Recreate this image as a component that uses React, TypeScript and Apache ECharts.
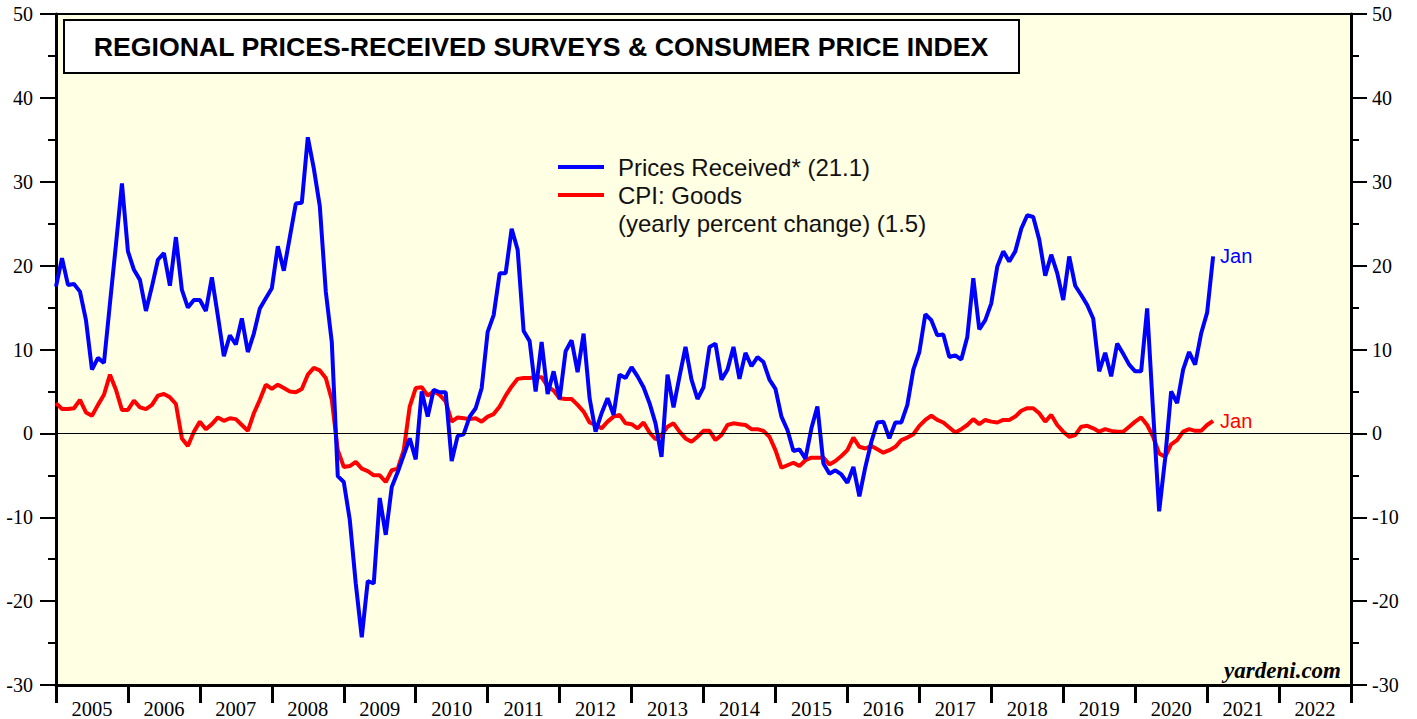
import React, { useEffect, useRef } from "react";
import * as echarts from "echarts";

// Month-end observations, Dec 2004 .. Jan 2021 (x = decimal year of month end)
const FIRST_MONTH_END = 2005.0;
const YEARS = ["2005","2006","2007","2008","2009","2010","2011","2012","2013","2014","2015","2016","2017","2018","2019","2020","2021","2022"];
const Y_TICKS = { min: -30, max: 50, interval: 10 };

const PRICES_RECEIVED = [
  17.5, 20.9, 17.7, 17.8, 16.9, 13.5, 7.6, 9.0, 8.4, 15.5, 22.5, 29.8,
  21.7, 19.5, 18.3, 14.6, 17.5, 20.7, 21.5, 17.6, 23.4, 17.1, 15.0, 15.9,
  15.9, 14.6, 18.6, 14.0, 9.2, 11.7, 10.6, 13.7, 9.7, 11.9, 14.9, 16.1,
  17.3, 22.3, 19.4, 23.4, 27.4, 27.5, 35.3, 31.6, 27.1, 16.9, 10.9, -5.1,
  -5.8, -10.3, -17.9, -24.3, -17.6, -17.9, -7.7, -12.1, -6.4, -4.6, -2.6, -0.6,
  -3.1, 5.0, 2.0, 5.2, 4.9, 4.9, -3.3, -0.3, -0.1, 2.0, 3.0, 5.4,
  12.1, 14.1, 19.1, 19.1, 24.4, 21.9, 12.2, 11.0, 5.0, 10.9, 4.7, 7.4,
  4.1, 9.8, 11.1, 7.3, 11.9, 4.2, 0.2, 2.4, 4.2, 2.2, 7.0, 6.6,
  7.9, 6.8, 5.5, 3.6, 1.2, -2.8, 7.0, 3.1, 6.8, 10.3, 6.4, 4.1,
  5.5, 10.3, 10.7, 6.4, 7.6, 10.3, 6.5, 9.6, 8.0, 9.1, 8.5, 6.4,
  5.3, 2.0, 0.4, -2.1, -1.9, -3.0, 0.6, 3.2, -3.6, -4.8, -4.4, -4.9,
  -5.9, -4.0, -7.5, -4.0, -1.0, 1.3, 1.4, -0.6, 1.3, 1.3, 3.4, 7.6,
  9.7, 14.2, 13.5, 11.7, 11.8, 9.1, 9.3, 8.8, 11.5, 18.5, 12.4, 13.5,
  15.5, 19.9, 21.7, 20.5, 21.7, 24.4, 26.0, 25.8, 23.1, 18.8, 21.3, 19.1,
  15.9, 21.1, 17.6, 16.5, 15.3, 13.7, 7.4, 9.6, 6.8, 10.7, 9.5, 8.2,
  7.4, 7.4, 14.9, 2.5, -9.3, -3.0, 5.0, 3.6, 7.6, 9.7, 8.2, 11.9,
  14.4, 21.1,
];

const CPI_GOODS = [
  3.6, 2.9, 2.9, 3.0, 4.0, 2.5, 2.1, 3.4, 4.6, 7.0, 5.2, 2.8,
  2.8, 3.9, 3.1, 2.9, 3.4, 4.5, 4.7, 4.3, 3.5, -0.6, -1.5, 0.2,
  1.4, 0.5, 1.1, 1.9, 1.5, 1.8, 1.7, 1.0, 0.3, 2.4, 4.0, 5.8,
  5.3, 5.8, 5.4, 5.0, 4.9, 5.3, 7.0, 7.8, 7.5, 6.6, 4.0, -2.0,
  -4.0, -3.9, -3.4, -4.2, -4.5, -5.0, -5.0, -5.8, -4.4, -4.2, -2.0, 3.2,
  5.4, 5.5, 4.5, 5.0, 4.6, 3.8, 1.4, 1.9, 1.8, 1.7, 1.8, 1.4,
  2.0, 2.3, 3.2, 4.5, 5.6, 6.5, 6.6, 6.6, 6.7, 6.7, 5.6, 5.1,
  4.2, 4.1, 4.1, 3.4, 2.6, 1.3, 1.0, 0.6, 1.4, 2.0, 2.2, 1.2,
  1.1, 0.6, 1.3, 0.1, -0.7, -0.2, 0.8, 1.2, 0.2, -0.6, -1.0, -0.4,
  0.3, 0.3, -0.8, -0.2, 1.0, 1.2, 1.1, 1.0, 0.5, 0.5, 0.3, -0.4,
  -2.0, -4.1, -3.8, -3.5, -3.9, -3.2, -2.9, -2.9, -2.9, -3.7, -3.3, -2.7,
  -2.0, -0.5, -1.6, -1.8, -1.5, -1.9, -2.3, -2.0, -1.6, -0.8, -0.5, -0.1,
  0.9, 1.6, 2.1, 1.6, 1.3, 0.7, 0.1, 0.5, 1.0, 1.7, 1.1, 1.6,
  1.4, 1.3, 1.6, 1.6, 2.0, 2.7, 3.0, 3.0, 2.4, 1.4, 2.2, 1.0,
  0.2, -0.4, -0.2, 0.8, 0.9, 0.6, 0.2, 0.5, 0.3, 0.2, 0.2, 0.8,
  1.4, 1.9, 1.0, -0.4, -2.4, -2.8, -1.3, -0.8, 0.2, 0.5, 0.3, 0.3,
  1.0, 1.5,
];

const TITLE = "REGIONAL PRICES-RECEIVED SURVEYS & CONSUMER PRICE INDEX";
const LEGEND_LINES = ["Prices Received* (21.1)", "CPI: Goods", "(yearly percent change) (1.5)"];

const toPairs = (arr: number[]) => arr.map((v, i) => [FIRST_MONTH_END + i / 12, v]);

const SERIF = "'Liberation Serif', 'Times New Roman', serif";
const SANS = "'Liberation Sans', Arial, sans-serif";

export default function App() {
  const ref = useRef<HTMLDivElement>(null);
  useEffect(() => {
    if (!ref.current) return;
    const chart = echarts.init(ref.current, null, { renderer: "svg" });
    const yAxisBase = (position: "left" | "right", margin: number) => ({
      type: "value",
      position,
      min: Y_TICKS.min,
      max: Y_TICKS.max,
      interval: Y_TICKS.interval,
      axisLine: { show: true, onZero: false, lineStyle: { color: "#000", width: 3 } },
      axisTick: { show: true, length: 16, lineStyle: { color: "#000", width: 2 } },
      minorTick: { show: true, splitNumber: 2, length: 8, lineStyle: { color: "#000", width: 2 } },
      splitLine: { show: false },
      axisLabel: { margin, color: "#000", fontFamily: SERIF, fontSize: 20 },
    });
    chart.setOption({
      animation: false,
      backgroundColor: "#fff",
      grid: {
        left: 56, right: 66, top: 14, bottom: 34,
        show: true, backgroundColor: "#FFFFE3", borderColor: "#000", borderWidth: 2,
      },
      xAxis: [
        { type: "value", min: 2005, max: 2023, show: false },
        {
          type: "category", position: "bottom", data: YEARS, boundaryGap: true,
          axisLine: { show: true, onZero: false, lineStyle: { color: "#000", width: 3 } },
          axisTick: { show: true, interval: 0, length: 18, lineStyle: { color: "#000", width: 3 } },
          axisLabel: { interval: 0, margin: 13, color: "#000", fontFamily: SERIF, fontSize: 20.5 },
          splitLine: { show: false },
        },
      ],
      yAxis: [yAxisBase("left", 23), yAxisBase("right", 21)],
      series: [
        {
          type: "line", xAxisIndex: 0, yAxisIndex: 0, data: [], z: 1, silent: true,
          markLine: {
            silent: true, symbol: "none", label: { show: false },
            lineStyle: { color: "#000", width: 1, type: "solid" },
            data: [{ yAxis: 0 }],
          },
        },
        {
          name: "CPI: Goods", type: "line", xAxisIndex: 0, yAxisIndex: 0, z: 3,
          data: toPairs(CPI_GOODS), showSymbol: false, symbol: "none",
          lineStyle: { color: "#ff0000", width: 4 }, itemStyle: { color: "#ff0000" },
          endLabel: { show: true, formatter: "Jan", color: "#ff0000", fontFamily: SANS, fontSize: 20, distance: 7 },
        },
        {
          name: "Prices Received", type: "line", xAxisIndex: 0, yAxisIndex: 0, z: 4,
          data: toPairs(PRICES_RECEIVED), showSymbol: false, symbol: "none",
          lineStyle: { color: "#0000ff", width: 4 }, itemStyle: { color: "#0000ff" },
          endLabel: { show: true, formatter: "Jan", color: "#0000ff", fontFamily: SANS, fontSize: 20, distance: 7 },
        },
      ],
      graphic: [
        {
          type: "rect", shape: { x: 64, y: 20, width: 955, height: 53 },
          style: { fill: "#fff", stroke: "#000", lineWidth: 2 }, z: 10,
        },
        {
          type: "text", x: 541, y: 47, z: 11,
          style: { text: TITLE, fill: "#000", font: `bold 26.7px ${SANS}`, align: "center", verticalAlign: "middle" },
        },
        { type: "line", shape: { x1: 558, y1: 167, x2: 604, y2: 167 }, style: { stroke: "#0000ff", lineWidth: 4 }, z: 10 },
        { type: "line", shape: { x1: 558, y1: 195, x2: 604, y2: 195 }, style: { stroke: "#ff0000", lineWidth: 4 }, z: 10 },
        ...LEGEND_LINES.map((t, k) => ({
          type: "text", x: 618, y: 167 + 28 * k, z: 10,
          style: { text: t, fill: "#111", font: `24px ${SANS}`, align: "left", verticalAlign: "middle" },
        })),
        {
          type: "text", x: 1341, y: 670, z: 10,
          style: { text: "yardeni.com", fill: "#000", font: `italic bold 23px ${SERIF}`, align: "right", verticalAlign: "middle" },
        },
      ],
    });
    return () => chart.dispose();
  }, []);
  return (
    <div
      ref={ref}
      style={{ position: "fixed", left: 0, top: 0, width: 1417, height: 719, background: "#fff" }}
    />
  );
}
